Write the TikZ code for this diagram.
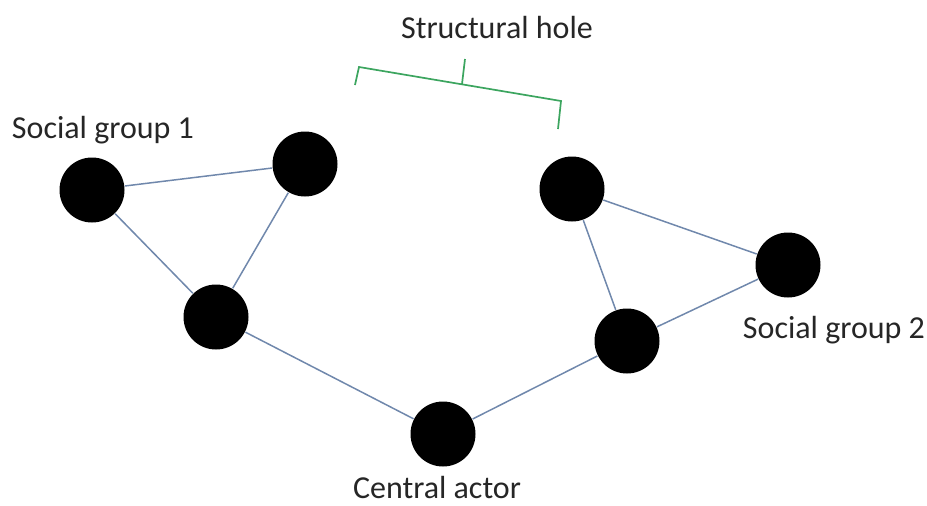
\documentclass[tikz,border=0pt]{standalone}
\usepackage{fontspec}
\setmainfont{Carlito}
\usetikzlibrary{positioning}
\definecolor{tieblue}{RGB}{112,136,172}
\definecolor{holegreen}{RGB}{60,165,95}

\begin{document}
\begin{tikzpicture}[
  x=1pt, y=-1pt, line width=1.4pt,
  actor/.style={circle, fill=black, minimum size=65pt, inner sep=0pt},
  tie/.style={draw=tieblue, line width=1.5pt},
  lbl/.style={font=\fontsize{32}{38}\selectfont, text=black!85, inner sep=0pt, anchor=base},
  hole/.style={draw=holegreen, line width=1.7pt}
]
  \useasboundingbox (0,0) rectangle (927,506);

  % Deux groupes reliés seulement par l'acteur central.
  \node[actor] (A) at (92,190) {};
  \node[actor] (B) at (305,164) {};
  \node[actor] (C) at (216,317) {};
  \node[actor] (X) at (443,434) {};
  \node[actor] (D) at (572,189) {};
  \node[actor] (E) at (788,265) {};
  \node[actor] (F) at (627,341) {};

  \draw[tie] (A) -- (B);
  \draw[tie] (A) -- (C);
  \draw[tie] (B) -- (C);
  \draw[tie] (C) -- (X);
  \draw[tie] (X) -- (F);
  \draw[tie] (F) -- (D);
  \draw[tie] (D) -- (E);
  \draw[tie] (E) -- (F);

  \node[lbl] (g1) at (103,138) {Social group 1};
  \node[lbl] (g2) at (834,338) {Social group 2};
  \node[lbl] (sh) at (497,38) {Structural hole};
  \node[lbl] (ca) at (437,498) {Central actor};

  \coordinate (h1) at (355,85);
  \coordinate (h2) at (359,67);
  \coordinate (h3) at (561,101);
  \coordinate (h4) at (558,129);
  \coordinate (m1) at (462,84);
  \coordinate (m2) at (465,59);
  \draw[hole] (h1) -- (h2) -- (h3) -- (h4);
  \draw[hole] (m1) -- (m2);
\end{tikzpicture}
\end{document}
